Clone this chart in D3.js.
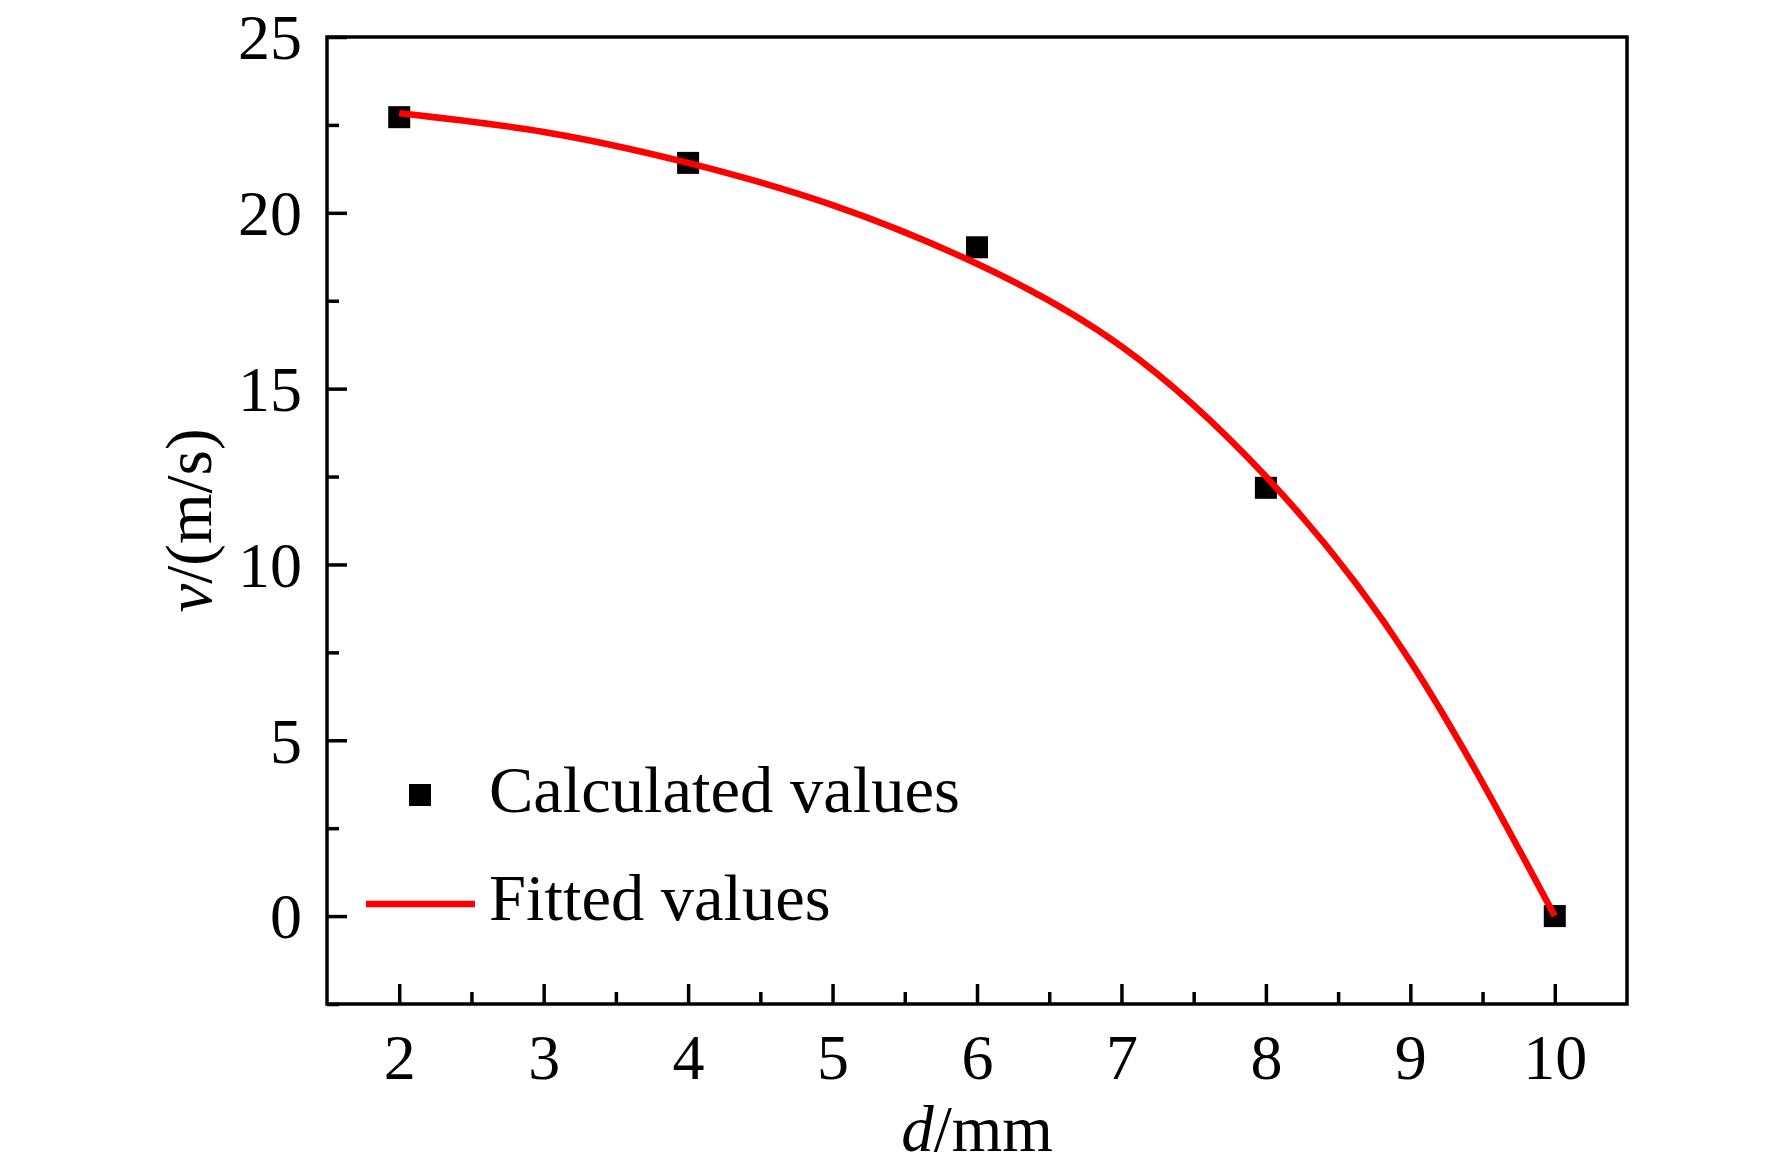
<!DOCTYPE html>
<html>
<head>
<meta charset="utf-8">
<script src="https://cdn.jsdelivr.net/npm/d3@7"></script>
<style>
  body { margin: 0; background: #fff; }
  text { font-family: "Liberation Serif", "Times New Roman", serif; fill: #000; }
</style>
</head>
<body>
<svg id="chart" width="1772" height="1169"></svg>
<script>
// calculated points
const distance = [2, 4, 6, 8, 10];
const velocity = [22.72, 21.42, 19.02, 12.18, 0];

// fitted curve
const fitDistance = [2, 3, 4, 5, 6, 7, 8, 9, 10];
const fitVelocity = [22.83, 22.3, 21.42, 20.22, 18.55, 16.2, 12.5, 7.25, 0];

const xTicks = [2, 3, 4, 5, 6, 7, 8, 9, 10];
const yTicks = [0, 5, 10, 15, 20, 25];

const plotLeft = 327, plotRight = 1627, plotTop = 37, plotBottom = 1004;
const svg = d3.select("#chart");

const x = d3.scaleLinear().domain([1.5, 10.5]).range([plotLeft, plotRight]);
const y = d3.scaleLinear().domain([-2.5, 25]).range([plotBottom, plotTop]);

// frame
svg.append("rect")
  .attr("x", plotLeft).attr("y", plotTop)
  .attr("width", plotRight - plotLeft).attr("height", plotBottom - plotTop)
  .attr("fill", "none").attr("stroke", "#000").attr("stroke-width", 3.5);

// x axis
const xAxis = svg.append("g").attr("transform", `translate(0,${plotBottom})`)
  .call(d3.axisBottom(x).tickValues(xTicks).tickSize(-20).tickPadding(0).tickFormat(d3.format("d")));
xAxis.select(".domain").remove();
xAxis.selectAll(".tick line").attr("stroke-width", 3.5);
xAxis.selectAll(".tick text").attr("font-size", 64).attr("y", 75).attr("dy", 0);

svg.append("g").attr("transform", `translate(0,${plotBottom})`)
  .call(d3.axisBottom(x).tickValues(d3.range(2.5, 10, 1)).tickSize(-12).tickFormat(""))
  .call((g) => g.select(".domain").remove())
  .selectAll(".tick line").attr("stroke-width", 3.5);

// y axis
const yAxis = svg.append("g").attr("transform", `translate(${plotLeft},0)`)
  .call(d3.axisLeft(y).tickValues(yTicks).tickSize(-20).tickPadding(25));
yAxis.select(".domain").remove();
yAxis.selectAll(".tick line").attr("stroke-width", 3.5);
yAxis.selectAll(".tick text").attr("font-size", 64).attr("dy", "0.34em");

svg.append("g").attr("transform", `translate(${plotLeft},0)`)
  .call(d3.axisLeft(y).tickValues([-2.5, 2.5, 7.5, 12.5, 17.5, 22.5]).tickSize(-12).tickFormat(""))
  .call((g) => g.select(".domain").remove())
  .selectAll(".tick line").attr("stroke-width", 3.5);

svg.selectAll(".tick text").attr("font-family", "Liberation Serif");

// axis titles
const xTitle = svg.append("text")
  .attr("x", (plotLeft + plotRight) / 2).attr("y", 1151)
  .attr("text-anchor", "middle").attr("font-size", 65);
xTitle.append("tspan").attr("font-style", "italic").text("d");
xTitle.append("tspan").text("/mm");

const yTitle = svg.append("text")
  .attr("transform", `translate(211,${(plotTop + plotBottom) / 2}) rotate(-90)`)
  .attr("text-anchor", "middle").attr("font-size", 65);
yTitle.append("tspan").attr("font-style", "italic").text("v");
yTitle.append("tspan").text("/(m/s)");

// calculated points
const sq = 22;
svg.selectAll(".point")
  .data(velocity)
  .enter()
  .append("rect")
  .attr("class", "point")
  .attr("x", (d, i) => x(distance[i]) - sq / 2)
  .attr("y", (d) => y(d) - sq / 2)
  .attr("width", sq)
  .attr("height", sq)
  .attr("fill", "#000");

// fitted line
const line = d3.line()
  .x((d, i) => x(fitDistance[i]))
  .y((d) => y(d))
  .curve(d3.curveNatural);

svg.append("path")
  .datum(fitVelocity)
  .attr("d", line)
  .attr("fill", "none")
  .attr("stroke", "#ff0000")
  .attr("stroke-width", 6.5);

// legend
const legend = svg.append("g");
legend.append("rect")
  .attr("x", 420 - sq / 2).attr("y", 795 - sq / 2)
  .attr("width", sq).attr("height", sq).attr("fill", "#000");
legend.append("text").attr("x", 489).attr("y", 812).attr("font-size", 66.5).text("Calculated values");
legend.append("line")
  .attr("x1", 366).attr("x2", 475).attr("y1", 904).attr("y2", 904)
  .attr("stroke", "#ff0000").attr("stroke-width", 6.5);
legend.append("text").attr("x", 489).attr("y", 920).attr("font-size", 66.5).text("Fitted values");
</script>
</body>
</html>
